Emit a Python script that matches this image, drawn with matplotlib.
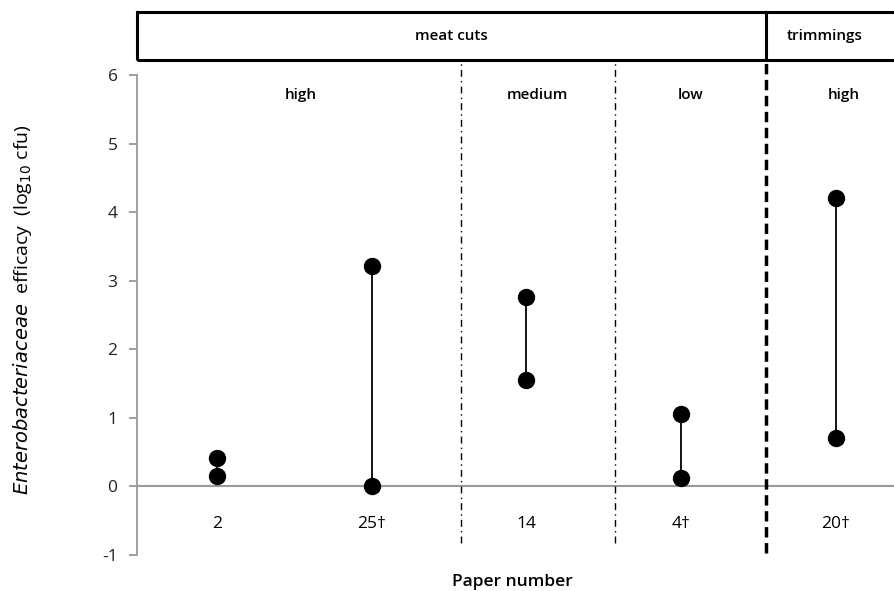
import matplotlib.pyplot as plt
from matplotlib.patches import Rectangle
import matplotlib.transforms as mtransforms

# data
papers = ['2', '25\u2020', '14', '4\u2020', '20\u2020']
low_vals = [0.15, 0.0, 1.55, 0.12, 0.70]
high_vals = [0.42, 3.21, 2.76, 1.06, 4.21]
levels = ['high', 'medium', 'low', 'high']
level_pos = [0.54, 2.07, 3.06, 4.05]
splits = [1.577, 2.572]
product_split = 3.548
products = ['meat cuts', 'trimmings']
product_pos = [1.515, 3.93]

plt.rcParams['font.family'] = ['Open Sans', 'DejaVu Sans']
plt.rcParams['axes.unicode_minus'] = False

fig = plt.figure(figsize=(8.94, 5.91), dpi=100)
ax = fig.add_axes([137 / 894, 1 - 555 / 591, 1 - 137 / 894, 480 / 591])

x = list(range(len(papers)))
for xi, lo, hi in zip(x, low_vals, high_vals):
    ax.plot([xi, xi], [lo, hi], color='black', lw=1.3, zorder=3)
ax.plot(x, low_vals, 'o', color='black', ms=11.5, zorder=4)
ax.plot(x, high_vals, 'o', color='black', ms=11.5, zorder=4)

ax.set_xlim(-0.517, 4.375)
ax.set_ylim(-1, 6)
ax.axhline(0, color='#999999', lw=1.5, zorder=1)

for s in ['top', 'right', 'bottom']:
    ax.spines[s].set_visible(False)
ax.spines['left'].set_color('#999999')
ax.spines['left'].set_linewidth(1.3)
ax.set_yticks(range(-1, 7))
ax.tick_params(axis='y', colors='#999999', length=6, width=1.3, labelsize=12.5,
               labelcolor='#222222', pad=8)
ax.set_xticks([])

trans = mtransforms.blended_transform_factory(ax.transData, ax.transAxes)

for xi, lab in zip(x, papers):
    ax.text(xi, 0.065, lab, transform=trans, ha='center', va='center', fontsize=12.5)

# separators
for s in splits:
    ax.plot([s, s], [0.025, 1.031], transform=trans, color='black', lw=1,
            linestyle=(0, (5, 3, 1, 3)), clip_on=False)
ax.plot([product_split, product_split], [0.004, 1.031], transform=trans,
        color='black', lw=2.5, linestyle=(0, (3, 1.6)), clip_on=False)

for p, lab in zip(level_pos, levels):
    ax.text(p, 0.958, lab, transform=trans, ha='center', va='center',
            fontsize=11, fontweight='semibold')

# header box
box = Rectangle((-0.517, 1.031), 5.2, 0.1, transform=trans, fill=False,
                edgecolor='black', lw=2.2, clip_on=False)
ax.add_patch(box)
ax.plot([product_split, product_split], [1.031, 1.131], transform=trans,
        color='black', lw=2.2, clip_on=False)
for p, lab in zip(product_pos, products):
    ax.text(p, 1.081, lab, transform=trans, ha='center', va='center',
            fontsize=11, fontweight='semibold')

fig.text(0.573, 1 - 582 / 591, 'Paper number', ha='center', va='center',
         fontsize=12.5, fontweight='semibold')
fig.text(23 / 894, 1 - 310 / 591,
         r'$\mathit{Enterobacteriaceae}$  efficacy  (log$_{10}$ cfu)',
         rotation=90, ha='center', va='center', fontsize=14)

fig.savefig('out.png', dpi=100)
